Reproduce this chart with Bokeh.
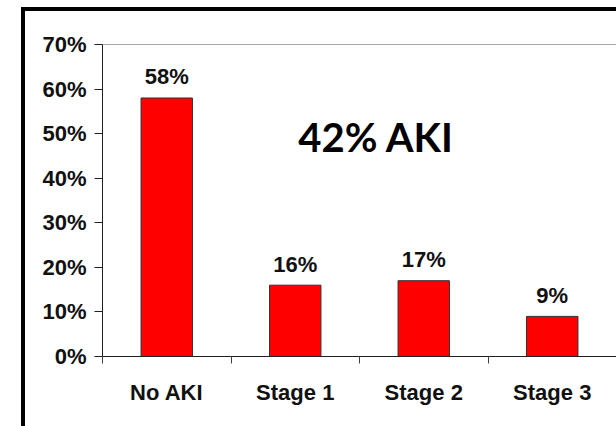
from bokeh.plotting import figure
from bokeh.models import (Range1d, FixedTicker, Span, Label, Spacer,
                          ColumnDataSource, LinearAxis)
from bokeh.layouts import column, row
from bokeh.core.properties import value
from bokeh.embed import file_html
from bokeh.resources import INLINE

categories = ["No AKI", "Stage 1", "Stage 2", "Stage 3"]
percent = [58, 16, 17, 9]
y_ticks = [0, 10, 20, 30, 40, 50, 60, 70]
y_tick_labels = ["0%", "10%", "20%", "30%", "40%", "50%", "60%", "70%"]
annotation_text = "42% AKI"

xs = [i + 0.5 for i in range(len(categories))]
src = ColumnDataSource(dict(x=xs, top=percent, lbl=[f"{v}%" for v in percent]))

FONT = "Liberation Sans"

W, H = 616, 426
OX, OY = 25, 11  # offset of figure after slide border

p = figure(width=W - OX, height=H - OY, output_backend="svg", toolbar_location=None,
           x_range=Range1d(0, len(categories)), y_range=Range1d(0, 70),
           min_border_left=102 - OX, min_border_top=44 - OY, min_border_bottom=70,
           min_border_right=0, x_axis_type=None)
p.outline_line_color = None
p.grid.visible = False
p.background_fill_color = "white"
p.border_fill_color = "white"

p.vbar(x="x", top="top", width=0.4, source=src, fill_color="#FF0000",
       line_color="#303030", line_width=1)

p.text(x="x", y="top", text="lbl", source=src, text_align="center",
       text_baseline="alphabetic", y_offset=-21,
       text_font=value(FONT), text_font_style="bold", text_font_size="22px",
       text_color="#111111")

# x axis: labels at centres, ticks at boundaries
xaxis = LinearAxis(ticker=FixedTicker(ticks=xs, minor_ticks=list(range(len(categories)))),
                   major_label_overrides={x: c for x, c in zip(xs, categories)})
xaxis.major_tick_line_color = None
xaxis.minor_tick_in = 0
xaxis.minor_tick_out = 7
xaxis.minor_tick_line_color = "#404040"
xaxis.axis_line_color = "#202020"
xaxis.major_label_standoff = 16
xaxis.major_label_text_font = FONT
xaxis.major_label_text_font_style = "bold"
xaxis.major_label_text_font_size = "22px"
xaxis.major_label_text_color = "#111111"
p.add_layout(xaxis, "below")

ya = p.yaxis[0]
ya.ticker = FixedTicker(ticks=y_ticks, minor_ticks=[])
ya.major_label_overrides = {t: l for t, l in zip(y_ticks, y_tick_labels)}
ya.major_tick_in = 0
ya.major_tick_out = 8
ya.major_tick_line_color = "#202020"
ya.axis_line_color = "#202020"
ya.major_label_standoff = 8
ya.major_label_text_font = FONT
ya.major_label_text_font_style = "bold"
ya.major_label_text_font_size = "22px"
ya.major_label_text_color = "#111111"

# top frame line
p.add_layout(Span(location=70, dimension="width", line_color="#505050", line_width=1))

p.add_layout(Label(x=2.13, y=49.2, text=annotation_text, text_align="center",
                   text_baseline="middle", text_font="Lato",
                   text_font_style="bold", text_font_size="40px", text_color="black"))

# slide border (thick black lines top and left)
top_bar = row(Spacer(width=21, height=4),
              Spacer(width=W - 21, height=4, styles={"background-color": "black"}))
left_part = row(Spacer(width=21, height=H - OY),
                Spacer(width=4, height=H - OY, styles={"background-color": "black"}),
                p)
layout = column(Spacer(width=W, height=7), top_bar, left_part)

open("out.html", "w").write(file_html(layout, INLINE))
